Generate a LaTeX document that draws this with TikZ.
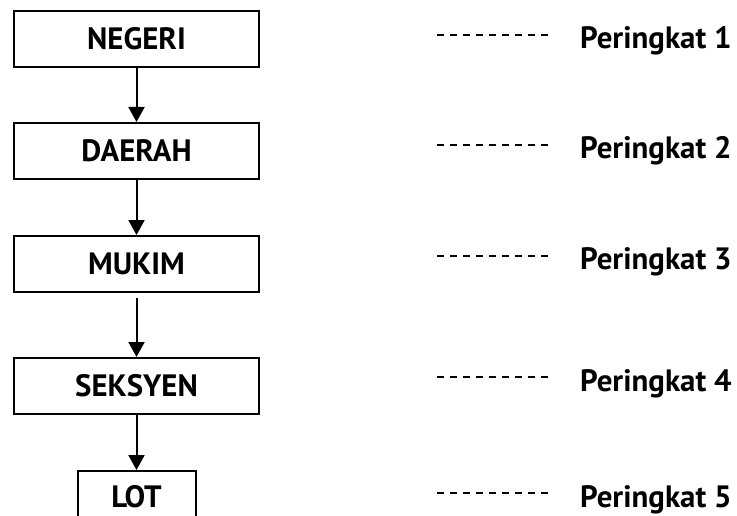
\documentclass[tikz,border=0pt]{standalone}
\usepackage{fontspec}
\setmainfont{PT Sans}
\usepackage{tikz}
\usetikzlibrary{arrows.meta,positioning}

\begin{document}
\begin{tikzpicture}[
        x=1bp, y=-1bp,
        node distance=54bp,
        every node/.style={font=\bfseries\fontsize{31}{33}\selectfont, inner sep=0pt},
        level/.style={draw, line width=2bp, minimum width=245bp, minimum height=56bp},
        link/.style={line width=2bp, -{Triangle[length=15bp, width=16bp]}},
        guide/.style={line width=1.2bp, dash pattern=on 7bp off 6bp}
    ]
    \useasboundingbox (0,0) rectangle (737,516);

    % Hierarchy boxes
    \node[level] (negeri) at (136.5,39) {NEGERI};
    \node[level, below=54bp of negeri] (daerah) {DAERAH};
    \node[level, below=55bp of daerah] (mukim) {MUKIM};
    \node[level, below=64bp of mukim] (seksyen) {SEKSYEN};
    \node[level, below=55bp of seksyen, minimum width=118bp, minimum height=52bp] (lot) {LOT};

    % Arrows
    \draw[link] (negeri) -- (daerah);
    \draw[link] (daerah) -- (mukim);
    \draw[link, shorten <=5bp] (mukim) -- (seksyen);
    \draw[link] (seksyen) -- (lot);

    % Levels
    \node[anchor=base west] (rank1) at (580,49) {Peringkat 1};
    \node[anchor=base west] (rank2) at (580,159) {Peringkat 2};
    \node[anchor=base west] (rank3) at (580,270) {Peringkat 3};
    \node[anchor=base west] (rank4) at (580,391) {Peringkat 4};
    \node[anchor=base west] (rank5) at (580,507) {Peringkat 5};

    % Dashed guides
    \draw[guide] ([shift={(-143,-14)}]rank1.base west) -- ++(117,0);
    \draw[guide] ([shift={(-143,-14)}]rank2.base west) -- ++(117,0);
    \draw[guide] ([shift={(-143,-14)}]rank3.base west) -- ++(117,0);
    \draw[guide] ([shift={(-143,-14)}]rank4.base west) -- ++(117,0);
    \draw[guide] ([shift={(-143,-14)}]rank5.base west) -- ++(117,0);
\end{tikzpicture}
\end{document}
